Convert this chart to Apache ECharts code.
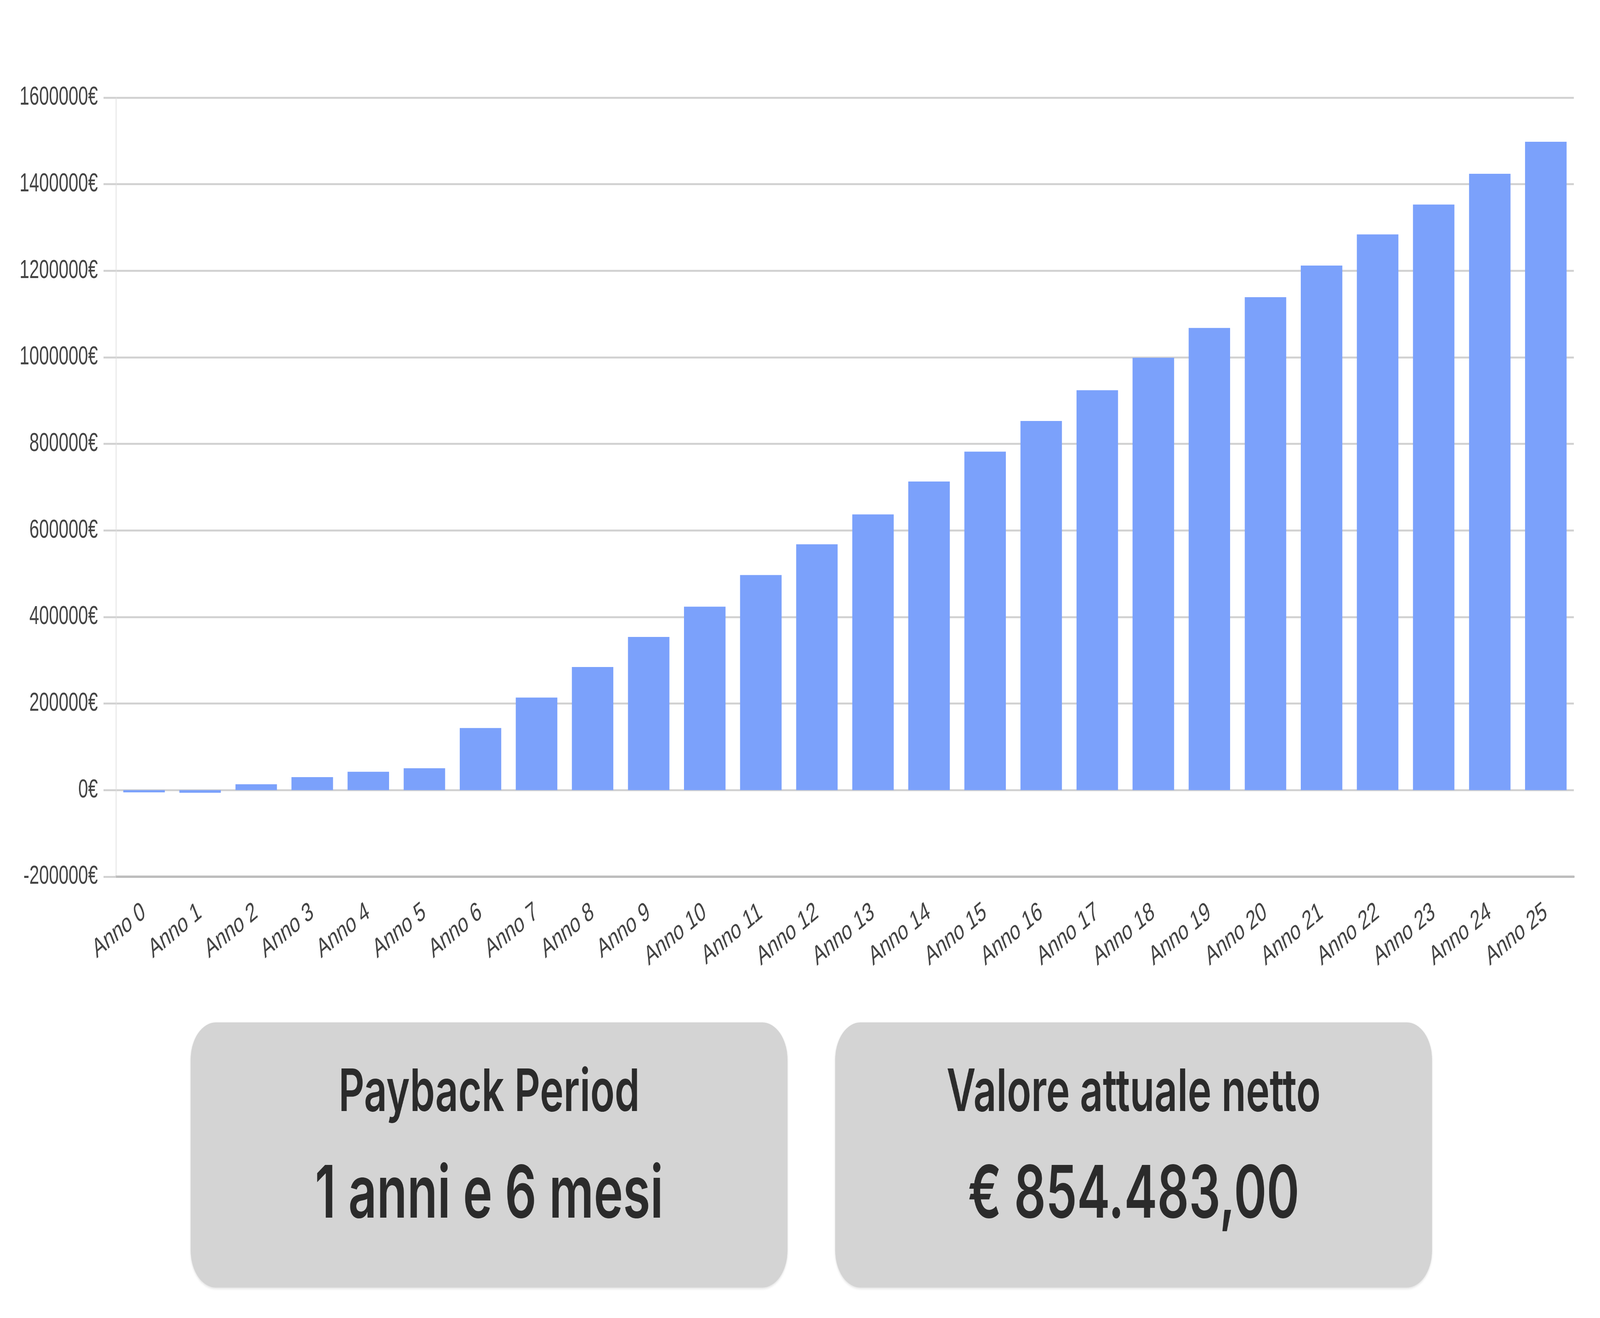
<!DOCTYPE html>
<html>
<head>
<meta charset="utf-8">
<script src="https://cdn.jsdelivr.net/npm/echarts@6/dist/echarts.min.js"></script>
<style>
html,body{margin:0;padding:0;background:#fff;overflow:hidden;width:100%;height:100%;}
#chart{width:6000px;height:3375px;position:absolute;left:0;top:0;transform-origin:0 0;}
</style>
</head>
<body>
<div id="chart"></div>
<script>
const categories = ['Anno 0','Anno 1','Anno 2','Anno 3','Anno 4','Anno 5','Anno 6','Anno 7','Anno 8','Anno 9','Anno 10','Anno 11','Anno 12','Anno 13','Anno 14','Anno 15','Anno 16','Anno 17','Anno 18','Anno 19','Anno 20','Anno 21','Anno 22','Anno 23','Anno 24','Anno 25'];
const cashFlow = [-5000, -6000, 13500, 30000, 42500, 50600, 143600, 214000, 284600, 354000, 424000, 497000, 568000, 637000, 713000, 782000, 853000, 924000, 999000, 1068000, 1139000, 1212000, 1284000, 1353000, 1424000, 1498000];
const yMin = -200000;
const yMax = 1600000;
const yStep = 200000;
const paybackTitle = 'Payback Period';
const paybackValue = '1 anni e 6 mesi';
const npvTitle = 'Valore attuale netto';
const npvValue = '€ 854.483,00';

const el = document.getElementById('chart');
const sx = window.innerWidth / 6000;
const sy = window.innerHeight / 3375;
el.style.transform = 'scale(' + sx + ',' + sy + ')';

const chart = echarts.init(el, null, {renderer: 'canvas', width: 6000, height: 3375, devicePixelRatio: 1});
const gridColor = '#d2d2d2';
const boxFont = 'Inter, "Noto Sans", sans-serif';
const axisFont = '"Liberation Sans", Arial, sans-serif';

function card(x, title, value) {
  const w = 2238, h = 679, y = 2618;
  return [
    {type: 'rect', shape: {x: x, y: y, width: w, height: h, r: 95},
     style: {fill: '#d4d4d4', shadowBlur: 6, shadowColor: 'rgba(0,0,0,0.12)', shadowOffsetY: 3}},
    {type: 'text', x: x + w / 2, y: 2800,
     style: {text: title, fill: '#2b2b2b', font: '600 150px ' + boxFont, align: 'center', verticalAlign: 'middle'}},
    {type: 'text', x: x + w / 2, y: 3062,
     style: {text: value, fill: '#2b2b2b', font: '600 186px ' + boxFont, align: 'center', verticalAlign: 'middle'}}
  ];
}

chart.setOption({
  backgroundColor: '#ffffff',
  animation: false,
  grid: {left: 435, right: 98, top: 250, bottom: 1130, containLabel: false},
  xAxis: {
    type: 'category',
    data: categories,
    position: 'bottom',
    axisLine: {onZero: false, lineStyle: {color: '#bdbdbd', width: 6}},
    axisTick: {show: false},
    axisLabel: {rotate: 30, fontSize: 68, color: '#444', margin: 85, interval: 0, fontFamily: axisFont}
  },
  yAxis: {
    type: 'value',
    min: yMin, max: yMax, interval: yStep,
    axisLine: {show: true, lineStyle: {color: '#e2e2e2', width: 3}},
    axisTick: {show: true, length: 47, lineStyle: {color: gridColor, width: 5}},
    splitLine: {show: true, lineStyle: {color: gridColor, width: 5}},
    axisLabel: {fontSize: 66, color: '#444', margin: 68, fontFamily: axisFont,
      formatter: function (v) { return v + '€'; }}
  },
  series: [{
    type: 'bar',
    data: cashFlow,
    barCategoryGap: '26%',
    itemStyle: {color: '#7ba1fb'}
  }],
  graphic: [].concat(card(715, paybackTitle, paybackValue), card(3132, npvTitle, npvValue))
});
</script>
</body>
</html>
